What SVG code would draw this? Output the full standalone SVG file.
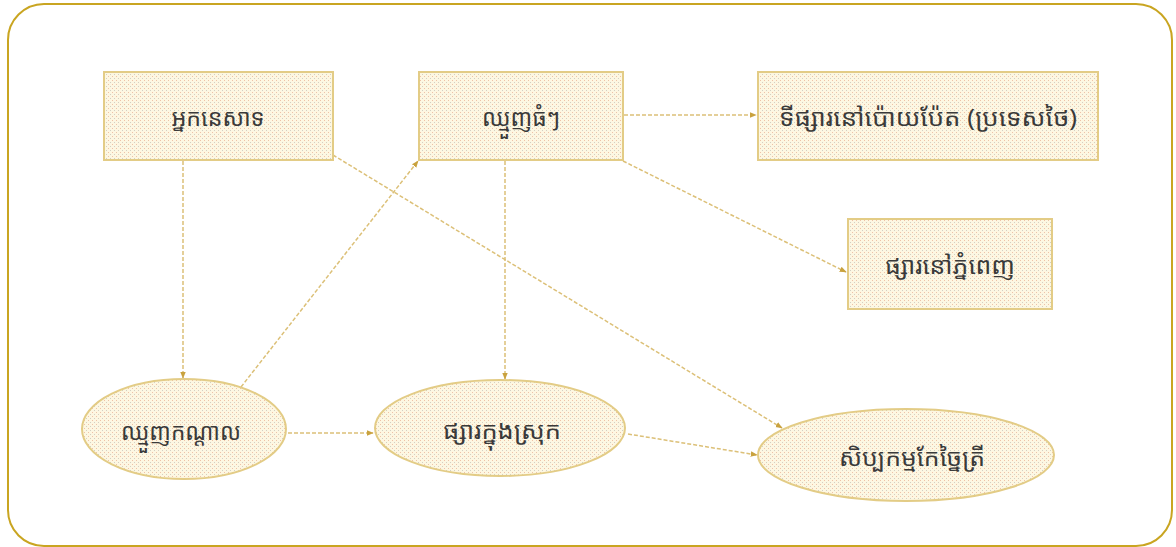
<svg xmlns="http://www.w3.org/2000/svg" width="1176" height="547" viewBox="0 0 1176 547">
<style>
.node{fill:url(#dots);stroke:#e3cc86;stroke-width:2}
.lbl{font-family:"Noto Sans Khmer","Khmer OS","Khmer OS System","Noto Sans","DejaVu Sans",sans-serif;font-size:24px;fill:#3a3a3a;text-anchor:middle;dominant-baseline:central}
.edge{fill:none;stroke:#dcc078;stroke-width:1.5;stroke-dasharray:4 2}
</style>
<defs>
<pattern id="dots" width="4" height="4" patternUnits="userSpaceOnUse">
<rect width="4" height="4" fill="#fdf7e2"/>
<rect x="0" y="0" width="1" height="1" fill="#f0c2a6"/>
<rect x="2" y="2" width="1" height="1" fill="#d2d0c4"/>
</pattern>
<marker id="arr" viewBox="0 0 10 10" refX="9" refY="5" markerWidth="7" markerHeight="7" orient="auto" markerUnits="userSpaceOnUse">
<path d="M0,1 L10,5 L0,9 Z" fill="#c9a23e"/>
</marker>
</defs>
<rect x="8" y="4" width="1164" height="542" rx="36" fill="#ffffff" stroke="#c9a521" stroke-width="2"/>
<g id="connectors">
<line class="edge" x1="183" y1="161" x2="183" y2="378" marker-end="url(#arr)"/>
<line class="edge" x1="241" y1="387" x2="418" y2="161" marker-end="url(#arr)"/>
<line class="edge" x1="333" y1="155" x2="782" y2="428" marker-end="url(#arr)"/>
<line class="edge" x1="624" y1="115" x2="756" y2="115" marker-end="url(#arr)"/>
<line class="edge" x1="623" y1="161" x2="846" y2="272" marker-end="url(#arr)"/>
<line class="edge" x1="505" y1="161" x2="505" y2="379" marker-end="url(#arr)"/>
<line class="edge" x1="288" y1="433" x2="373" y2="433" marker-end="url(#arr)"/>
<line class="edge" x1="628" y1="434" x2="757" y2="455" marker-end="url(#arr)"/>
</g>
<g id="n-fisherman">
<rect class="node" x="104" y="72" width="229" height="88"/>
<text class="lbl" x="218" y="116" textLength="93" lengthAdjust="spacingAndGlyphs">អ្នកនេសាទ</text>
</g>
<g id="n-bigmerchants">
<rect class="node" x="419" y="72" width="204" height="88"/>
<text class="lbl" x="521" y="116" textLength="78" lengthAdjust="spacingAndGlyphs">ឈ្មួញធំៗ</text>
</g>
<g id="n-poipet">
<rect class="node" x="758" y="72" width="340" height="88"/>
<text class="lbl" x="928" y="116" textLength="298" lengthAdjust="spacingAndGlyphs">ទីផ្សារនៅប៉ោយប៉ែត (ប្រទេសថៃ)</text>
</g>
<g id="n-phnompenh">
<rect class="node" x="848" y="219" width="204" height="90"/>
<text class="lbl" x="950" y="264" textLength="130" lengthAdjust="spacingAndGlyphs">ផ្សារនៅភ្នំពេញ</text>
</g>
<g id="n-middlemen">
<ellipse class="node" cx="184" cy="429" rx="102" ry="50"/>
<text class="lbl" x="181" y="430" textLength="120" lengthAdjust="spacingAndGlyphs">ឈ្មួញកណ្ដាល</text>
</g>
<g id="n-localmarket">
<ellipse class="node" cx="500" cy="428" rx="125" ry="48"/>
<text class="lbl" x="502" y="429" textLength="118" lengthAdjust="spacingAndGlyphs">ផ្សារក្នុងស្រុក</text>
</g>
<g id="n-processing">
<ellipse class="node" cx="906" cy="455" rx="148" ry="46"/>
<text class="lbl" x="912" y="456" textLength="146" lengthAdjust="spacingAndGlyphs">សិប្បកម្មកែច្នៃត្រី</text>
</g>
</svg>
